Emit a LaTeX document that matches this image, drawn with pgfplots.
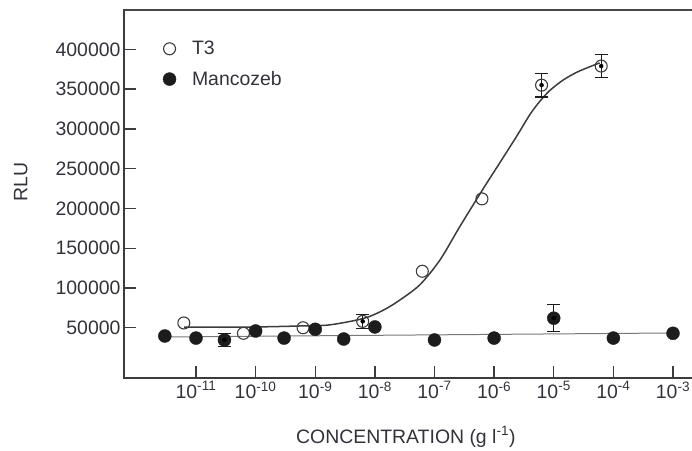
\documentclass[border=0pt]{standalone}
\usepackage{fontspec}
\setmainfont{Liberation Sans}
\usepackage{pgfplots}
\pgfplotsset{compat=1.18}
\definecolor{txt}{RGB}{50,50,58}
\definecolor{axc}{RGB}{60,60,60}
\definecolor{mk}{RGB}{28,28,28}
\definecolor{lnc}{RGB}{120,120,120}
\begin{document}
\begin{tikzpicture}
\begin{axis}[
  name=ax,
  at={(0,0)}, anchor=south west,
  scale only axis, width=580bp, height=368bp,
  xmode=log, log basis x=10,
  xmin=6.2e-13, xmax=3.31e-3,
  ymin=-13200, ymax=449500,
  scaled y ticks=false,
  xtick={1e-11,1e-10,1e-9,1e-8,1e-7,1e-6,1e-5,1e-4,1e-3},
  xticklabels={10\textsuperscript{-11},10\textsuperscript{-10},10\textsuperscript{-9},10\textsuperscript{-8},10\textsuperscript{-7},10\textsuperscript{-6},10\textsuperscript{-5},10\textsuperscript{-4},10\textsuperscript{-3}},
  ytick={50000,100000,150000,200000,250000,300000,350000,400000},
  yticklabels={50000,100000,150000,200000,250000,300000,350000,400000},
  xminorticks=false,
  xtick pos=bottom, ytick pos=left,
  tick align=inside, major tick length=12bp,
  axis line style={axc, line width=1.5bp},
  every tick/.style={axc, line width=1.3bp},
  tick label style={font=\fontsize{19.5}{23}\selectfont, text=txt},
  xlabel={CONCENTRATION (g l\textsuperscript{-1})},
  ylabel={RLU},
  label style={font=\fontsize{19.5}{23}\selectfont, text=txt},
  xlabel style={at={(axis description cs:0.486,-0.160)}, anchor=center},
  ylabel style={at={(axis description cs:-0.178,0.533)}, anchor=center},
  legend style={draw=none, fill=none, font=\fontsize{19.5}{23}\selectfont, text=txt,
    at={(axis description cs:0.067,0.921)}, anchor=north west, row sep=11bp, column sep=14bp, inner sep=0pt},
  legend cell align=left,
  clip=false,
]
% fitted curve for T3
\addplot[draw=axc, line width=1.5bp, smooth, forget plot] coordinates {
 (6.31e-12,50900) (7.94e-11,50900) (5.5e-10,52200) (1.74e-9,53600) (6.31e-9,61500)
 (1.26e-8,70500) (2.34e-8,82300) (5.62e-8,103700) (1.23e-7,135000) (2.63e-7,176600)
 (6.46e-7,224000) (1.26e-6,258000) (2.4e-6,291000) (3.98e-6,318000) (5.75e-6,334000)
 (8.51e-6,348000) (1.41e-5,361000) (2.4e-5,371000) (3.98e-5,378000) (5.89e-5,383000)};
% regression line for Mancozeb
\addplot[draw=lnc, line width=1bp, forget plot] coordinates {(3e-12,38400) (1e-3,43400)};
% T3 points
\addplot[only marks, mark=o, mark size=6bp, mark options={draw=axc, line width=1.1bp}] coordinates {
 (6.25e-12,56000) (6.25e-11,43000) (6.25e-10,50000) (6.25e-9,58000)
 (6.25e-8,121000) (6.25e-7,212000) (6.25e-6,355000) (6.25e-5,379000)};
\addlegendentry{T3}
% Mancozeb points
\addplot[only marks, mark=*, mark size=6.5bp, mark options={draw=mk, fill=mk}] coordinates {
 (3e-12,39600) (1e-11,37000) (3e-11,34600) (1e-10,45900) (3e-10,37000) (1e-9,48000)
 (3e-9,35800) (1e-8,51000) (1e-7,34600) (1e-6,37000) (1e-5,62000) (1e-4,37000) (1e-3,43000)};
\addlegendentry{Mancozeb}
% error bars
\addplot[forget plot, only marks, mark=none,
  error bars/.cd, y dir=both, y explicit,
  error bar style={draw=mk, line width=1.4bp},
  error mark options={rotate=90, mark size=6.5bp, line width=1.4bp, draw=mk}]
 coordinates {(6.25e-9,58000) +- (0,9000) (6.25e-6,355000) +- (0,15000) (6.25e-5,379000) +- (0,14500)
 (3e-11,34600) +- (0,8000) (1e-5,62000) +- (0,17000)};
\end{axis}
\draw[color=black!72, line width=2bp] (0bp,368bp) -- (567bp,368bp);
\pgfresetboundingbox
\useasboundingbox (-124bp,-73bp) rectangle (568bp,378bp);
\end{tikzpicture}
\end{document}
